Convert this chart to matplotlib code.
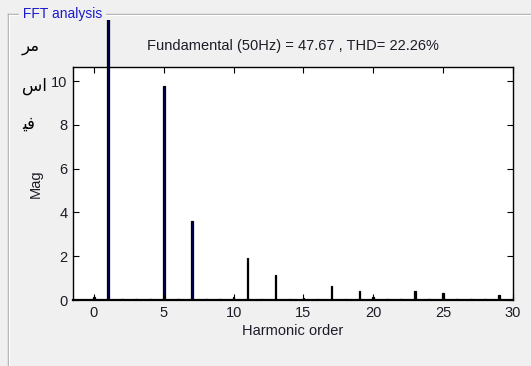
import numpy as np
import matplotlib
matplotlib.use("Agg")
import matplotlib.pyplot as plt
from matplotlib.lines import Line2D
from matplotlib.transforms import Bbox, TransformedBbox

# harmonic spectrum (magnitude)
harmonics = [0, 1, 2, 3, 4, 5, 6, 7, 8, 9, 10, 11, 12, 13, 14, 15,
             16, 17, 18, 19, 20, 21, 22, 23, 24, 25, 26, 27, 28, 29, 30]
mags = [0.12, 47.67, 0.04, 0.04, 0.05, 9.75, 0.05, 3.6, 0.04, 0.05, 0.12,
        1.9, 0.05, 1.15, 0.04, 0.1, 0.05, 0.65, 0.05, 0.4, 0.15, 0.05,
        0.04, 0.4, 0.05, 0.3, 0.05, 0.05, 0.05, 0.25, 0.05]
fund_hz = 50
fund_mag = 47.67
thd = 22.26

xticks = [0, 5, 10, 15, 20, 25, 30]
yticks = [0, 2, 4, 6, 8, 10]

bg = "#f0f0f0"
txt = "#1c1c28"
font = ["Liberation Sans", "DejaVu Sans"]

fig = plt.figure(figsize=(5.31, 3.66), dpi=100, facecolor=bg)
W, H = 531.0, 366.0

# panel frame ("FFT analysis" uipanel)
fig.add_artist(Line2D([8 / W, 1.0], [1 - 14 / H] * 2, color="#a8a8a8", lw=1))
fig.add_artist(Line2D([9 / W, 1.0], [1 - 15 / H] * 2, color="white", lw=1))
fig.add_artist(Line2D([8 / W] * 2, [0, 1 - 14 / H], color="#a8a8a8", lw=1))
fig.add_artist(Line2D([9 / W] * 2, [0, 1 - 15 / H], color="white", lw=1))
fig.text(19 / W, 1 - 14 / H, " FFT analysis ", color="#1a1acc", fontsize=10,
         family=font, va="center", ha="left",
         bbox=dict(facecolor=bg, edgecolor="none", pad=0))

# stray arabic text on the left
for s, y in [("\ufeae\ufee3", 46), ("\ufeb1\ufe8d", 86), ("\ufef4\ufed3", 124)]:
    fig.text(22 / W, 1 - y / H, s, fontsize=12, color="black",
             family="DejaVu Sans", va="center", ha="left")

left, right, top, bottom = 73, 513, 67, 300
ax = fig.add_axes([left / W, 1 - bottom / H, (right - left) / W, (bottom - top) / H])
ax.set_facecolor("white")

bars = ax.bar(harmonics, mags, width=0.12, color="#00006a",
              edgecolor="black", linewidth=0.9)
# fundamental bar runs past the axes up to the panel edge
clip = TransformedBbox(Bbox.from_extents(left / W, 1 - bottom / H, right / W, 1 - 20 / H),
                       fig.transFigure)
for b in bars:
    b.set_clip_box(clip)

ax.set_xlim(-1.5, 30)
ax.set_ylim(0, 10.64)
ax.set_xticks(xticks)
ax.set_yticks(yticks)
ax.tick_params(direction="in", top=True, right=True, length=4, width=0.8,
               labelsize=10.5, colors="black", labelcolor=txt, pad=4)
for lab in ax.get_xticklabels() + ax.get_yticklabels():
    lab.set_family(font)
for sp in ax.spines.values():
    sp.set_linewidth(1)
    sp.set_color("black")
ax.spines["bottom"].set_linewidth(1.6)

ax.set_title("Fundamental (%dHz) = %.2f , THD= %.2f%%" % (fund_hz, fund_mag, thd),
             fontsize=10.5, color=txt, family=font, pad=12)
ax.set_xlabel("Harmonic order", fontsize=10.5, color=txt, family=font, labelpad=3)
ax.set_ylabel("Mag", fontsize=10.5, color=txt, family=font, labelpad=6)

fig.savefig("out.png", dpi=100, facecolor=bg)
